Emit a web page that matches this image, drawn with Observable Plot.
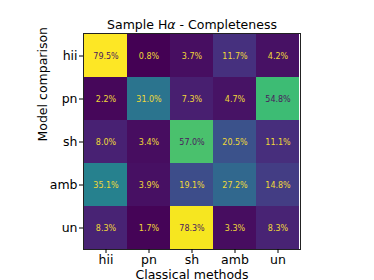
<!DOCTYPE html>
<html>
<head>
<meta charset="utf-8">
<script src="https://cdn.jsdelivr.net/npm/d3@7"></script>
<script src="https://cdn.jsdelivr.net/npm/@observablehq/plot@0.6"></script>
<style>
  html, body { margin: 0; padding: 0; background: white; }
  #chart svg g[aria-label="x-axis tick label"],
  #chart svg g[aria-label="y-axis tick label"] { font-size: 12.5px; }
  #chart svg g[aria-label="x-axis tick label"] text,
  #chart svg g[aria-label="y-axis tick label"] text { font-size: 12.5px; }
</style>
</head>
<body>
<div id="chart"></div>
<script>
const title = "Sample Hα - Completeness";
const xLabel = "Classical methods";
const yLabel = "Model comparison";
const rows = ["hii", "pn", "sh", "amb", "un"];
const cols = ["hii", "pn", "sh", "amb", "un"];
const rowHii = [79.5, 0.8, 3.7, 11.7, 4.2];
const rowPn  = [2.2, 31.0, 7.3, 4.7, 54.8];
const rowSh  = [8.0, 3.4, 57.0, 20.5, 11.1];
const rowAmb = [35.1, 3.9, 19.1, 27.2, 14.8];
const rowUn  = [8.3, 1.7, 78.3, 3.3, 8.3];
const matrix = [rowHii, rowPn, rowSh, rowAmb, rowUn];

const data = [];
rows.forEach((r, i) => cols.forEach((c, j) => data.push({row: r, col: c, value: matrix[i][j]})));
const vmin = d3.min(data, d => d.value);
const vmax = d3.max(data, d => d.value);
const thresh = (vmin + vmax) / 2;

const plot = Plot.plot({
  width: 374,
  height: 280,
  marginLeft: 83,
  marginRight: 74,
  marginTop: 33,
  marginBottom: 31,
  style: {fontFamily: "DejaVu Sans", fontSize: "12px", color: "black", background: "white"},
  x: {domain: cols, padding: 0, label: null},
  y: {domain: rows, padding: 0, label: null},
  color: {type: "linear", scheme: "viridis", domain: [vmin, vmax]},
  marks: [
    Plot.cell(data, {x: "col", y: "row", fill: "value", shapeRendering: "crispEdges"}),
    Plot.text(data.filter(d => d.value <= thresh), {x: "col", y: "row", text: d => d.value.toFixed(1) + "%", fill: "#f0d838", fontSize: 8}),
    Plot.text(data.filter(d => d.value > thresh), {x: "col", y: "row", text: d => d.value.toFixed(1) + "%", fill: "#4a1a5e", fontSize: 8}),
    Plot.frame({stroke: "#222", strokeWidth: 1}),
    Plot.axisX({tickSize: 4, tickPadding: 2, fontSize: 12.5, label: null}),
    Plot.axisY({tickSize: 4, tickPadding: 2, fontSize: 12.5, label: null}),
    Plot.text([title], {frameAnchor: "top", dy: -9, fontSize: 12.5, lineAnchor: "middle", className: "ttl"}),
    Plot.text([xLabel], {frameAnchor: "bottom", dy: 25, fontSize: 12.5, lineAnchor: "middle"}),
    Plot.text([yLabel], {frameAnchor: "left", dx: -41, rotate: -90, fontSize: 12.5, lineAnchor: "middle"})
  ]
});
document.getElementById("chart").appendChild(plot);
// italic alpha like mathtext
plot.querySelectorAll("g.ttl text").forEach(t => {
  const s = t.textContent;
  const k = s.indexOf("α");
  if (k >= 0) {
    t.textContent = "";
    const ns = "http://www.w3.org/2000/svg";
    const a = document.createElementNS(ns, "tspan"); a.textContent = s.slice(0, k);
    const b = document.createElementNS(ns, "tspan"); b.textContent = "α"; b.setAttribute("font-style", "italic");
    const c = document.createElementNS(ns, "tspan"); c.textContent = s.slice(k + 1);
    t.append(a, b, c);
  }
});
</script>
</body>
</html>
